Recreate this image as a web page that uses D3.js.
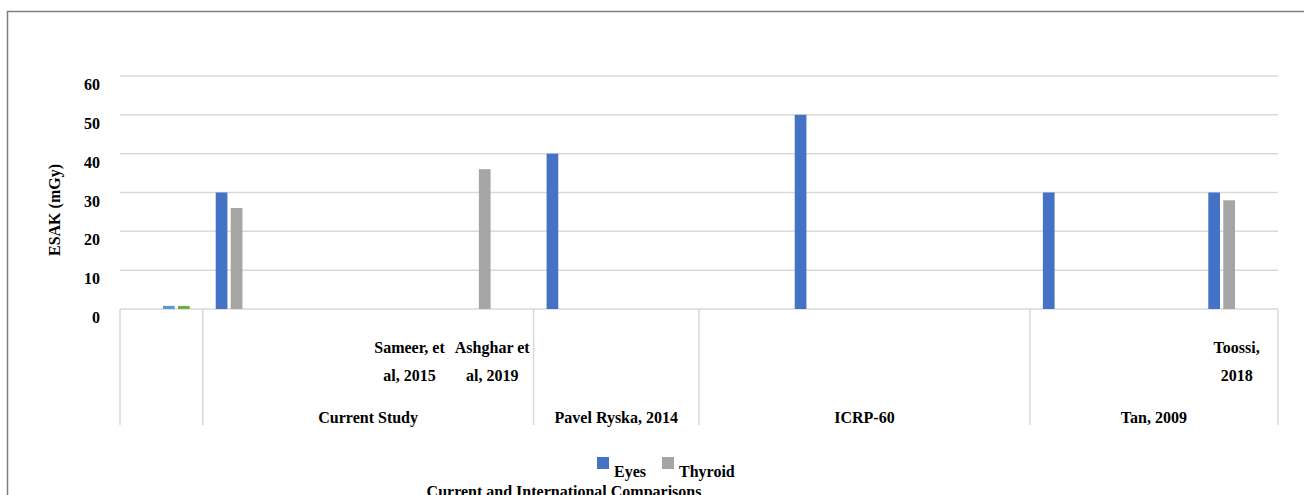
<!DOCTYPE html>
<html>
<head>
<meta charset="utf-8">
<script src="https://cdn.jsdelivr.net/npm/d3@7"></script>
<style>
  body { margin: 0; background: #fff; }
  svg text { font-family: "Liberation Serif", "Times New Roman", serif; font-weight: bold; fill: #000; }
</style>
</head>
<body>
<div class="container"></div>
<script>
// chart data
var innerLabels = ["", "", "", "Sameer, et\nal, 2015", "Ashghar et\nal, 2019", "", "", "", "", "", "", "", "", "Toossi,\n2018"];
var groupNames = ["", "Current Study", "Pavel Ryska, 2014", "ICRP-60", "Tan, 2009"];
var groupSizes = [1, 4, 2, 4, 3];
var eyes    = [null, 30, null, null, null, 40, null, null, 50, null, null, 30, null, 30];
var thyroid = [null, 26, null, null, 36, null, null, null, null, null, null, null, null, 28];
var series3 = [0.8, null, null, null, null, null, null, null, null, null, null, null, null, null];
var series4 = [0.8, null, null, null, null, null, null, null, null, null, null, null, null, null];
var yTicks = [0, 10, 20, 30, 40, 50, 60];

var seriesNames = ["Eyes", "Thyroid", "S3", "S4"];
var seriesValues = [eyes, thyroid, series3, series4];
var colors = ["#4472C4", "#A5A5A5", "#5B9BD5", "#70AD47"];

var W = 1304, H = 495;
var plotLeft = 120, plotRight = 1278, plotTop = 76, plotBase = 309;
var fs = 16;

var svg = d3.select('.container').append('svg')
  .attr('width', W)
  .attr('height', H);

// chart border (runs off the right and bottom edge)
svg.append('rect')
  .attr('x', 7.5).attr('y', 11.5)
  .attr('width', W + 20).attr('height', H + 20)
  .attr('fill', 'none')
  .attr('stroke', '#7f7f7f')
  .attr('stroke-width', 1.5);

var x0 = d3.scaleBand()
  .domain(d3.range(innerLabels.length))
  .range([plotLeft, plotRight]);

var x1 = d3.scaleBand()
  .domain(seriesNames)
  .range([0, x0.bandwidth()])
  .paddingInner(0.22)
  .paddingOuter(0.867);

var y = d3.scaleLinear().domain([0, 60]).range([plotBase, plotTop]);

// gridlines
svg.append('g').selectAll('line').data(yTicks).enter().append('line')
  .attr('x1', plotLeft).attr('x2', plotRight)
  .attr('y1', function(d) { return y(d); })
  .attr('y2', function(d) { return y(d); })
  .attr('stroke', '#d9d9d9')
  .attr('stroke-width', 1.5);

// y tick labels (sit a bit under their gridline, like the original)
svg.append('g').selectAll('text').data(yTicks).enter().append('text')
  .attr('x', 100)
  .attr('y', function(d) { return y(d) + 14; })
  .attr('text-anchor', 'end')
  .attr('font-size', fs)
  .text(function(d) { return d; });

svg.append('text')
  .attr('transform', 'translate(60,210) rotate(-90)')
  .attr('text-anchor', 'middle')
  .attr('font-size', fs)
  .text('ESAK (mGy)');

// bars
var rows = [];
seriesValues.forEach(function(vals, s) {
  vals.forEach(function(v, i) {
    if (v != null) rows.push({ s: s, i: i, v: v });
  });
});

svg.append('g').selectAll('rect').data(rows).enter().append('rect')
  .attr('x', function(d) { return x0(d.i) + x1(seriesNames[d.s]); })
  .attr('width', x1.bandwidth())
  .attr('y', function(d) { return y(d.v); })
  .attr('height', function(d) { return plotBase - y(d.v); })
  .attr('fill', function(d) { return colors[d.s]; });

// group separators on the category axis
var bounds = [0];
groupSizes.forEach(function(n, k) { bounds.push(bounds[k] + n); });
var edge = function(b) { return b < innerLabels.length ? x0(b) : plotRight; };

svg.append('g').selectAll('line').data(bounds).enter().append('line')
  .attr('x1', edge)
  .attr('x2', edge)
  .attr('y1', plotBase).attr('y2', 425)
  .attr('stroke', '#d9d9d9')
  .attr('stroke-width', 1.5);

// inner category labels
var inner = svg.append('g').selectAll('text').data(innerLabels).enter().append('text')
  .attr('text-anchor', 'middle')
  .attr('font-size', fs)
  .attr('x', function(d, i) { return x0(i) + x0.bandwidth() / 2; })
  .attr('y', 353);

inner.each(function(d) {
  var t = d3.select(this);
  d.split('\n').forEach(function(line, k) {
    t.append('tspan')
      .attr('x', t.attr('x'))
      .attr('dy', k === 0 ? 0 : 28)
      .text(line);
  });
});

// outer group labels
svg.append('g').selectAll('text').data(groupNames).enter().append('text')
  .attr('text-anchor', 'middle')
  .attr('font-size', fs)
  .attr('x', function(d, k) { return (edge(bounds[k]) + edge(bounds[k + 1])) / 2; })
  .attr('y', 423)
  .text(function(d) { return d; });

// legend
var legend = [{ name: 'Eyes', x: 597 }, { name: 'Thyroid', x: 662 }];
var lg = svg.append('g').selectAll('g').data(legend).enter().append('g');
lg.append('rect')
  .attr('x', function(d) { return d.x; })
  .attr('y', 457)
  .attr('width', 12).attr('height', 12)
  .attr('fill', function(d, i) { return colors[i]; });
lg.append('text')
  .attr('x', function(d) { return d.x + 17; })
  .attr('y', 477)
  .attr('font-size', fs)
  .text(function(d) { return d.name; });

// x axis title, cut off by the bottom edge
svg.append('text')
  .attr('x', 564)
  .attr('y', 497)
  .attr('text-anchor', 'middle')
  .attr('font-size', fs)
  .text('Current and International Comparisons');
</script>
</body>
</html>
